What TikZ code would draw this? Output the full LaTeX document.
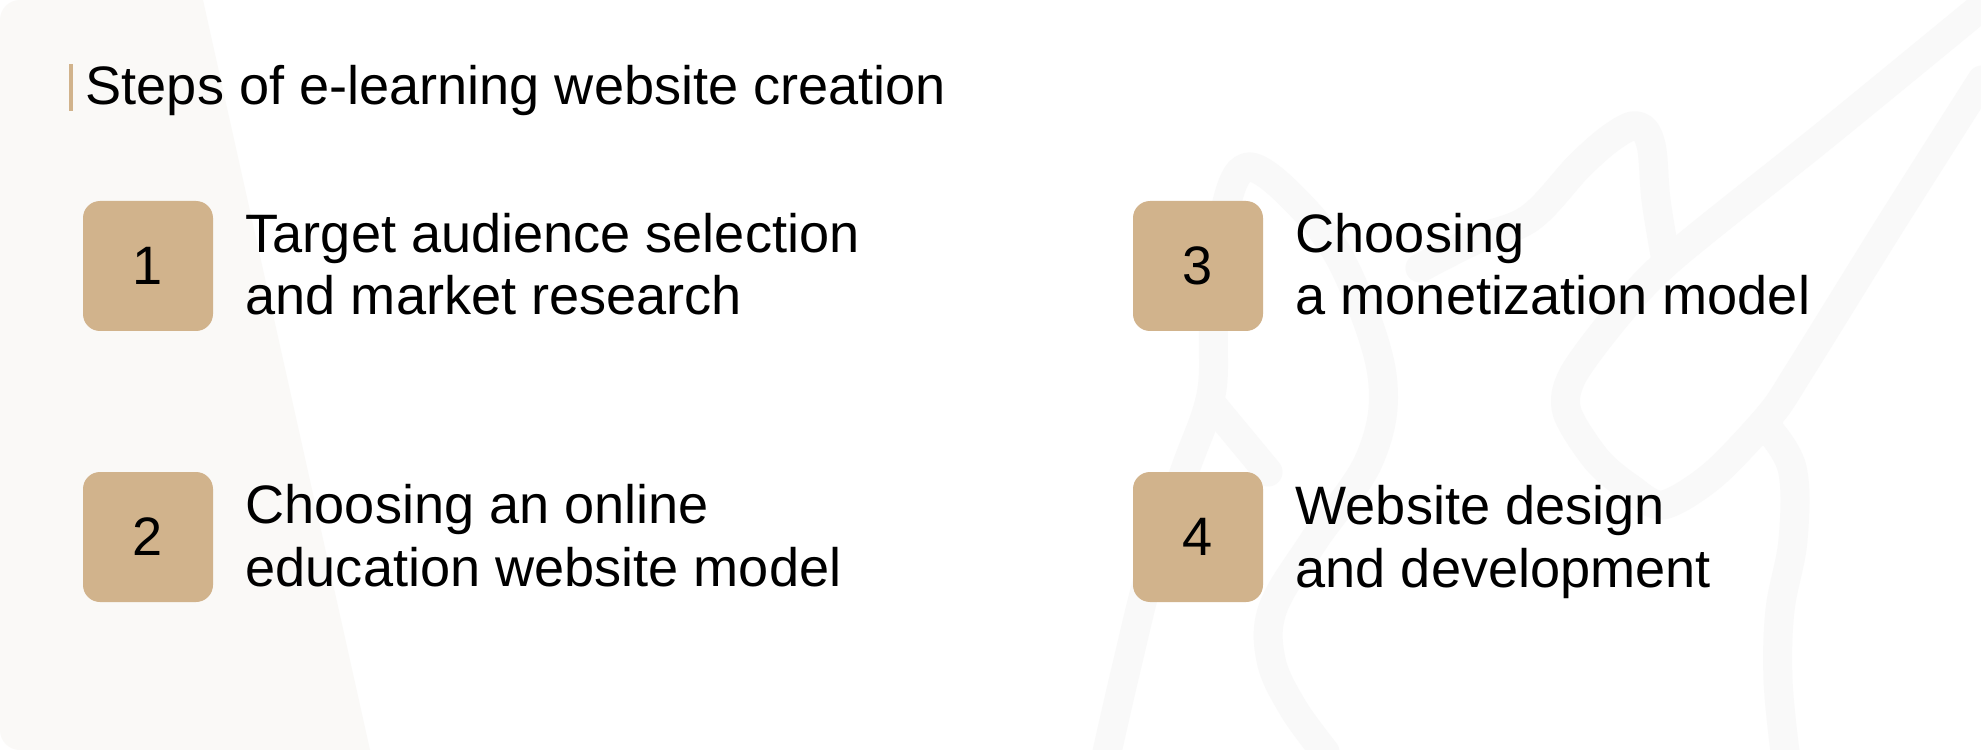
\documentclass[tikz,border=0pt]{standalone}
\usepackage{fontspec}
\setmainfont{Liberation Sans}

\definecolor{stepTan}{RGB}{209,179,140}
\definecolor{panelGrey}{RGB}{250,249,247}
\definecolor{doodleGrey}{RGB}{249,249,249}

\begin{document}
\begin{tikzpicture}[
    x=0.1mm, y=-0.1mm,
    every node/.style={font=\fontsize{15.4}{17.65}\selectfont, text=black},
    numbox/.style={
        fill=stepTan,
        rounded corners=1.7mm,
        minimum width=13mm,
        minimum height=13mm,
        inner sep=0pt
    },
    steptext/.style={anchor=base west, align=left, inner sep=0pt},
    doodle/.style={draw=doodleGrey, line width=2.9mm, line cap=round, line join=round}
]

    % canvas
    \useasboundingbox (0,0) rectangle (1981,750);
    \fill[white] (0,0) rectangle (1981,750);

    % left panel
    \fill[panelGrey] (203,0) -- (370,750) -- (20,750)
        .. controls (9,750) and (0,741) .. (0,730) -- (0,20)
        .. controls (0,9) and (9,0) .. (20,0) -- cycle;

    % line drawing, left figure
    \draw[doodle] plot[smooth, tension=0.6] coordinates {
        (1107,752) (1127,665) (1152,565) (1185,470) (1211,395) (1214,320)
        (1224,215) (1248,167) (1300,205) (1345,268) (1382,375) (1370,458)
        (1313,542) (1273,608) (1271,660) (1293,708) (1325,752)};
    \draw[doodle] (1210,402) -- (1268,472);

    % line drawing, right figure
    \draw[doodle] plot[smooth, tension=0.6] coordinates {
        (1420,268) (1475,240) (1530,218) (1580,165) (1615,135) (1638,126)
        (1651,145) (1656,200) (1665,255)};
    \draw[doodle] plot[smooth, tension=0.5] coordinates {
        (1980,8) (1825,135) (1673,257) (1620,312) (1573,375) (1567,412)
        (1597,460) (1630,488) (1663,505) (1713,475) (1770,415) (1800,370)
        (1890,225) (1982,80)};
    \draw[doodle] plot[smooth, tension=0.6] coordinates {
        (1765,425) (1792,468) (1793,540) (1780,610) (1778,680) (1785,752)};

    % title
    \fill[stepTan] (69,64) rectangle (73,111);
    \node[anchor=base west, inner sep=0pt] (title) at (85,105)
        {Steps of e-learning website creation};

    % steps (anchored on the baseline of the second line)
    \node[numbox] (n1) at (148,266) {1};
    \node[steptext] (s1) at (245,315)
        {Target audience selection\\and market research};

    \node[numbox] (n2) at (148,537) {2};
    \node[steptext] (s2) at (245,586)
        {Choosing an online\\education website model};

    \node[numbox] (n3) at (1198,266) {3};
    \node[steptext] (s3) at (1295,315)
        {Choosing\\a monetization model};

    \node[numbox] (n4) at (1198,537) {4};
    \node[steptext] (s4) at (1295,587)
        {Website design\\and development};

\end{tikzpicture}
\end{document}
